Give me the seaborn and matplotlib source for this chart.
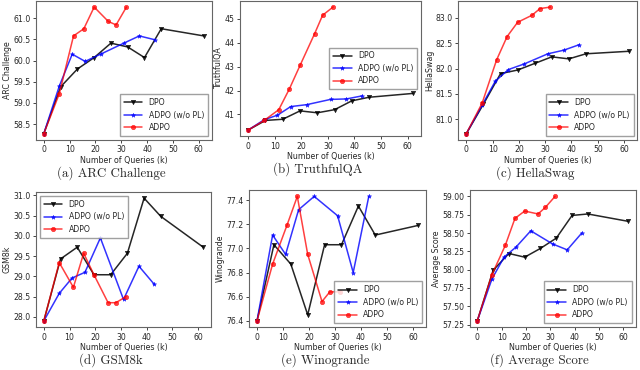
import numpy as np
import pandas as pd
import seaborn as sns
import matplotlib.pyplot as plt

# query counts (k) for each method
x_dpo = [0, 6.5, 13, 19.5, 26, 32.5, 39, 45.5, 62]
x_nopl = [0, 6, 11, 16, 22, 31, 37, 43]
x_adpo = [0, 6, 11.5, 15.5, 19.5, 25, 28, 32]

arc_dpo = [58.28, 59.38, 59.8, 60.07, 60.41, 60.32, 60.07, 60.75, 60.58]
arc_nopl = [58.28, 59.4, 60.15, 59.98, 60.15, 60.41, 60.58, 60.49]
arc_adpo = [58.28, 59.22, 60.58, 60.75, 61.26, 60.92, 60.84, 61.26]

tqa_dpo = [40.35, 40.75, 40.8, 41.15, 41.07, 41.2, 41.57, 41.72, 41.88]
tqa_nopl = [40.35, 40.78, 40.97, 41.33, 41.41, 41.63, 41.65, 41.78]
tqa_adpo = [40.35, 40.75, 41.2, 42.07, 43.05, 44.38, 45.15, 45.5]

hs_dpo = [80.72, 81.3, 81.9, 81.97, 82.1, 82.23, 82.19, 82.29, 82.34]
hs_nopl = [80.72, 81.28, 81.75, 81.98, 82.09, 82.29, 82.36, 82.47]
hs_adpo = [80.72, 81.32, 82.17, 82.63, 82.91, 83.05, 83.18, 83.21]

gsm_dpo = [27.9, 29.43, 29.72, 29.04, 29.04, 29.57, 30.93, 30.48, 29.72]
gsm_nopl = [27.9, 28.58, 28.96, 29.1, 29.95, 28.43, 29.25, 28.8]
gsm_adpo = [27.9, 29.34, 28.73, 29.57, 29.04, 28.35, 28.35, 28.5]

wg_dpo = [76.4, 77.03, 76.87, 76.45, 77.03, 77.03, 77.35, 77.11, 77.19]
wg_nopl = [76.4, 77.11, 76.95, 77.32, 77.43, 77.27, 76.8, 77.43]
wg_adpo = [76.4, 76.87, 77.19, 77.43, 76.95, 76.56, 76.64, 76.64]

avg_dpo = [57.3, 57.99, 58.22, 58.17, 58.29, 58.43, 58.74, 58.76, 58.66]
avg_nopl = [57.3, 57.87, 58.17, 58.31, 58.53, 58.35, 58.27, 58.5]
avg_adpo = [57.3, 57.93, 58.33, 58.7, 58.8, 58.76, 58.85, 59.0]

panels = [
    ("ARC Challenge", "(a) ARC Challenge", arc_dpo, arc_nopl, arc_adpo, "lower right",
     [0.056, 0.622, 0.275, 0.376], 0.5),
    ("TruthfulQA", "(b) TruthfulQA", tqa_dpo, tqa_nopl, tqa_adpo, "center right",
     [0.375, 0.632, 0.283, 0.366], 1),
    ("HellaSwag", "(c) HellaSwag", hs_dpo, hs_nopl, hs_adpo, "lower right",
     [0.716, 0.622, 0.280, 0.376], 0.5),
    ("GSM8k", "(d) GSM8k", gsm_dpo, gsm_nopl, gsm_adpo, "upper left",
     [0.056, 0.116, 0.274, 0.365], 0.5),
    ("Winogrande", "(e) Winogrande", wg_dpo, wg_nopl, wg_adpo, "lower right",
     [0.389, 0.116, 0.277, 0.370], 0.2),
    ("Average Score", "(f) Average Score", avg_dpo, avg_nopl, avg_adpo, "lower right",
     [0.734, 0.116, 0.259, 0.370], 0.25),
]

styles = {
    "DPO": dict(color="black", marker="v", alpha=0.85),
    "ADPO (w/o PL)": dict(color="blue", marker="*", alpha=0.8),
    "ADPO": dict(color="red", marker="o", alpha=0.75),
}

sns.set_style("white")
plt.rcParams['font.family'] = ['DejaVu Sans']

fig = plt.figure(figsize=(6.4, 3.7), dpi=100)

for ylab, cap, d1, d2, d3, loc, pos, step in panels:
    ax = fig.add_axes(pos)
    df = pd.concat([
        pd.DataFrame({"x": x_dpo, "y": d1, "method": "DPO"}),
        pd.DataFrame({"x": x_nopl, "y": d2, "method": "ADPO (w/o PL)"}),
        pd.DataFrame({"x": x_adpo, "y": d3, "method": "ADPO"}),
    ])
    for name, st in styles.items():
        sub = df[df["method"] == name]
        sns.lineplot(data=sub, x="x", y="y", ax=ax, label=name, color=st["color"],
                     marker=st["marker"], markersize=3.2, linewidth=1.1, alpha=st["alpha"],
                     markeredgewidth=0.4, markeredgecolor=st["color"])
    ax.set_xticks([0, 10, 20, 30, 40, 50, 60])
    ax.yaxis.set_major_locator(plt.MultipleLocator(step))
    if step == 0.25:
        ax.yaxis.set_major_formatter(plt.FormatStrFormatter('%.2f'))
    elif step == 1:
        ax.yaxis.set_major_formatter(plt.FormatStrFormatter('%d'))
    else:
        ax.yaxis.set_major_formatter(plt.FormatStrFormatter('%.1f'))
    ax.tick_params(axis="both", labelsize=5.6, length=2.5, width=0.6, direction="out",
                   left=True, bottom=True, pad=1.5)
    ax.set_xlabel("Number of Queries (k)", fontsize=5.7, labelpad=1)
    ax.set_ylabel(ylab, fontsize=5.7, labelpad=1)
    for s in ax.spines.values():
        s.set_color("#666666")
        s.set_linewidth(0.8)
    ax.legend(loc=loc, fontsize=5.6, frameon=True, handlelength=2.4,
              borderpad=0.5, labelspacing=0.45, fancybox=False, edgecolor="#888888")
    cx = pos[0] + pos[2] / 2 - 0.02
    cy = pos[1] - 0.07
    fig.text(cx, cy, cap, ha="center", va="top", fontsize=9.3, family="cmr10")

fig.savefig("out.png", dpi=100)
